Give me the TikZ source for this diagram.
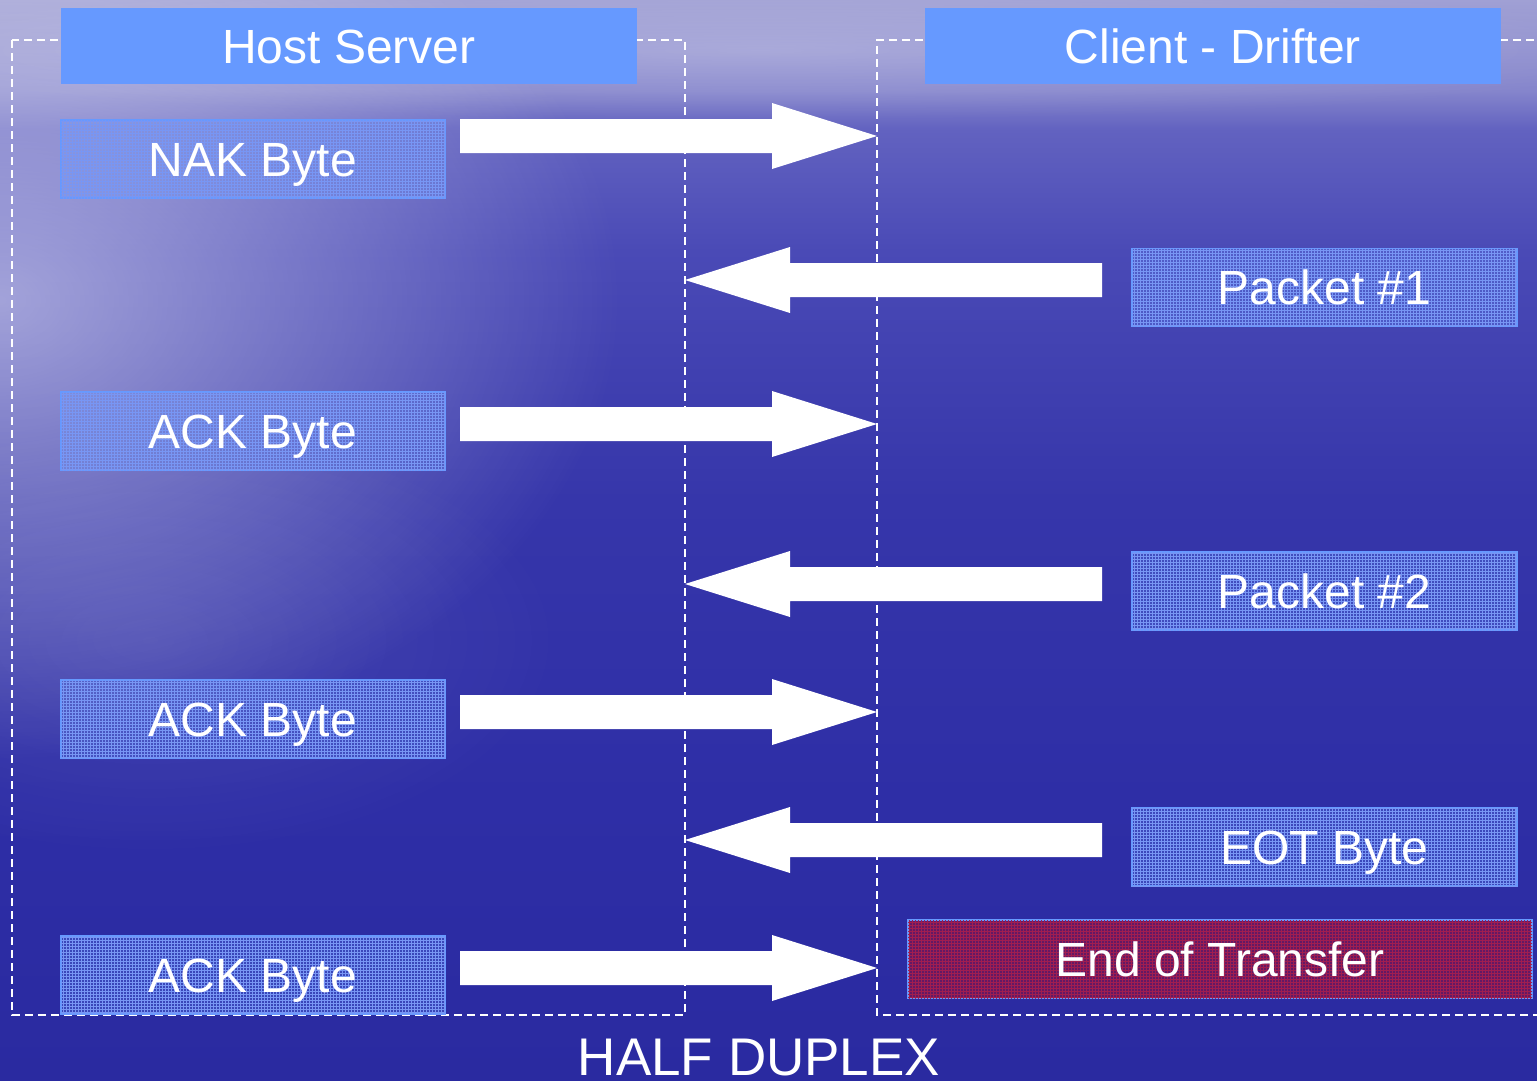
\documentclass[tikz,border=0pt]{standalone}
\usepackage{fontspec}
\setmainfont{Liberation Sans}
\usetikzlibrary{fadings,patterns}
\definecolor{hdr}{HTML}{6699FF}
\definecolor{eotred}{RGB}{104,24,96}
\definecolor{gridblue}{HTML}{7896F4}
\definecolor{gridred}{HTML}{A01E50}
\definecolor{bga}{RGB}{42,42,160}
\definecolor{bgb}{RGB}{46,46,166}
\definecolor{bgc}{RGB}{54,54,170}
\definecolor{bgd}{RGB}{74,74,182}
\definecolor{bge}{RGB}{98,98,192}
\definecolor{bgf}{RGB}{133,133,204}
\definecolor{bgg}{RGB}{160,160,212}
\pgfdeclareverticalshading{seabg}{100bp}{%
  color(0bp)=(bga); color(25bp)=(bga); color(38bp)=(bgb); color(51.9bp)=(bgc);
  color(63.4bp)=(bgd); color(69bp)=(bge); color(70.8bp)=(bgf);
  color(75bp)=(bgg); color(100bp)=(bgg)}
\tikzfading[name=softglow, inner color=transparent!0, outer color=transparent!100]
\tikzset{
  hdrbox/.style={fill=hdr, minimum width=576, minimum height=76, inner sep=0,
    text height=34.4, text depth=0,
    font=\fontsize{48}{48}\selectfont, text=white},
  msgbox/.style={draw=hdr, line width=1.5, fill=hdr, fill opacity=0.25, text opacity=1,
    minimum width=384, minimum height=78, inner sep=0,
    text height=34.4, text depth=0,
    font=\fontsize{48}{48}\selectfont, text=white,
    postaction={pattern=grid, pattern color=gridblue, fill opacity=0.12}},
  endbox/.style={draw=hdr, line width=1.5, fill=eotred, fill opacity=0.92, text opacity=1,
    minimum width=624, minimum height=78, inner sep=0,
    text height=34.4, text depth=0,
    font=\fontsize{48}{48}\selectfont, text=white,
    postaction={pattern=grid, pattern color=gridred, fill opacity=0.3}},
  dashline/.style={white, line width=1.5, dash pattern=on 8 off 5},
  blockarrow/.pic={\fill[white] (0,-17) -- (312,-17) -- (312,-33) -- (417,0)
      -- (312,33) -- (312,17) -- (0,17) -- cycle;}
}
\begin{document}
\begin{tikzpicture}[x=1pt,y=-1pt]
\useasboundingbox (0,0) rectangle (1537,1081);
\clip (0,0) rectangle (1537,1081);
% background
\shade[shading=seabg] (0,0) rectangle (1537,1081);
\fill[white, fill opacity=0.5, path fading=softglow] (0,300) ellipse (620 and 460);
\fill[white, fill opacity=0.22, path fading=softglow] (760,50) ellipse (950 and 70);
\fill[white, fill opacity=0.1, path fading=softglow] (150,640) ellipse (420 and 220);
% dashed frames
\draw[dashline] (12,40) rectangle (685,1015);
\draw[dashline] (1560,40) -- (877,40) -- (877,1015) -- (1560,1015);
% headers
\node[hdrbox] (host) at (349,46) {Host Server};
\node[hdrbox] (client) at (1213,46) {Client - Drifter};
% message boxes
\node[msgbox] (nak) at (253,159) {NAK Byte};
\node[msgbox, minimum width=385] (p1) at (1324.5,287.5) {Packet \#1};
\node[msgbox] (ack1) at (253,431) {ACK Byte};
\node[msgbox, minimum width=385] (p2) at (1324.5,591) {Packet \#2};
\node[msgbox] (ack2) at (253,719) {ACK Byte};
\node[msgbox, minimum width=385] (eot) at (1324.5,847) {EOT Byte};
\node[msgbox] (ack3) at (253,975) {ACK Byte};
\node[endbox] (end) at (1220,959) {End of Transfer};
% arrows
\coordinate (r1) at (460,136);
\coordinate (r2) at (460,424);
\coordinate (r3) at (460,712);
\coordinate (r4) at (460,968);
\coordinate (l1) at (1102,280);
\coordinate (l2) at (1102,584);
\coordinate (l3) at (1102,840);
\pic at (r1) {blockarrow};
\pic at (r2) {blockarrow};
\pic at (r3) {blockarrow};
\pic at (r4) {blockarrow};
\pic[xscale=-1] at (l1) {blockarrow};
\pic[xscale=-1] at (l2) {blockarrow};
\pic[xscale=-1] at (l3) {blockarrow};
% caption
\node[anchor=base, text=white, inner sep=0, font=\fontsize{53}{53}\selectfont] (cap) at (759,1075) {HALF DUPLEX};
\end{tikzpicture}
\end{document}
